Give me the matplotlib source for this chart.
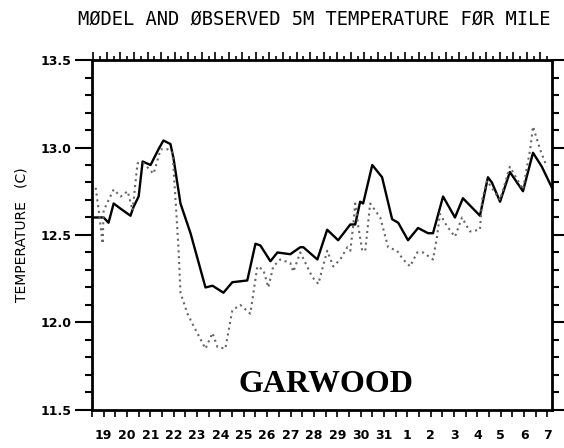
import matplotlib
matplotlib.use("Agg")
import matplotlib.pyplot as plt
from matplotlib.ticker import MultipleLocator, FixedLocator, NullFormatter

# days counted on from 19 July: 32 = 1 Aug, 38 = 7 Aug
model_day = [18.57, 19.00, 19.21, 19.43, 19.73, 20.15, 20.28, 20.50, 20.67, 21.01,
             21.35, 21.56, 21.86, 21.99, 22.29, 22.72, 23.36, 23.66, 24.13, 24.51,
             25.15, 25.50, 25.71, 26.14, 26.44, 26.99, 27.42, 27.55, 28.15, 28.57,
             29.04, 29.56, 29.77, 29.98, 30.11, 30.50, 30.92, 31.35, 31.61, 32.03,
             32.46, 32.89, 33.10, 33.53, 34.04, 34.38, 35.11, 35.45, 35.62, 35.97,
             36.39, 36.95, 37.38, 37.76, 38.19]
model_temp = [12.60, 12.60, 12.57, 12.68, 12.65, 12.61, 12.66, 12.72, 12.92, 12.90,
              12.99, 13.04, 13.02, 12.94, 12.68, 12.51, 12.20, 12.21, 12.17, 12.23,
              12.24, 12.45, 12.44, 12.35, 12.40, 12.39, 12.43, 12.43, 12.36, 12.53,
              12.47, 12.56, 12.56, 12.69, 12.68, 12.90, 12.83, 12.59, 12.57, 12.47,
              12.54, 12.51, 12.51, 12.72, 12.60, 12.71, 12.61, 12.83, 12.80, 12.69,
              12.86, 12.75, 12.97, 12.89, 12.77]

obs_day = [18.66, 18.79, 18.96, 19.00, 19.43, 19.73, 20.03, 20.24, 20.45, 20.71,
           21.14, 21.44, 21.74, 21.95, 22.08, 22.21, 22.29, 22.59, 22.85, 23.36,
           23.66, 23.87, 24.21, 24.51, 24.85, 25.28, 25.58, 25.84, 26.05, 26.26,
           26.56, 26.99, 27.12, 27.42, 27.93, 28.19, 28.57, 28.83, 29.13, 29.43,
           29.56, 29.68, 29.77, 29.90, 30.07, 30.20, 30.41, 30.84, 31.18, 31.56,
           31.82, 32.12, 32.42, 32.68, 33.10, 33.27, 33.40, 33.70, 34.04, 34.34,
           34.68, 35.11, 35.20, 35.41, 35.97, 36.39, 36.95, 37.26, 37.38, 37.68,
           37.97]
obs_temp = [12.77, 12.64, 12.45, 12.64, 12.76, 12.72, 12.75, 12.64, 12.91, 12.91,
            12.85, 12.99, 12.99, 12.97, 12.70, 12.41, 12.17, 12.05, 11.98, 11.85,
            11.94, 11.86, 11.85, 12.07, 12.10, 12.05, 12.32, 12.30, 12.20, 12.32,
            12.36, 12.34, 12.29, 12.40, 12.26, 12.22, 12.41, 12.32, 12.36, 12.43,
            12.41, 12.55, 12.68, 12.55, 12.41, 12.41, 12.68, 12.60, 12.43, 12.41,
            12.36, 12.32, 12.40, 12.40, 12.36, 12.49, 12.62, 12.55, 12.49, 12.60,
            12.52, 12.53, 12.70, 12.81, 12.70, 12.89, 12.76, 12.99, 13.12, 12.99,
            12.89]

tick_days = list(range(19, 39))
tick_labels = ["19", "20", "21", "22", "23", "24", "25", "26", "27", "28", "29",
               "30", "31", "1", "2", "3", "4", "5", "6", "7"]

fig = plt.figure(figsize=(5.64, 4.48), dpi=100)
ax = fig.add_axes([0.163, 0.085, 0.816, 0.781])

ax.plot(model_day, model_temp, color="black", lw=1.7)
ax.plot(obs_day, obs_temp, color="#666666", lw=1.5, ls=(0, (1, 1.8)))

ax.set_xlim(18.5, 38.2)
ax.set_ylim(11.5, 13.5)

for s in ax.spines.values():
    s.set_linewidth(2)

ax.set_xticks(tick_days)
ax.set_xticklabels(tick_labels, fontsize=9, fontweight="bold")
ax.xaxis.set_minor_locator(MultipleLocator(0.5))
ax.tick_params(axis="x", which="both", direction="out", length=5, width=1.2, pad=9)

ax.set_yticks([11.5, 12.0, 12.5, 13.0, 13.5])
ax.set_yticklabels(["11.5", "12.0", "12.5", "13.0", "13.5"], fontsize=9, fontweight="bold")
ax.yaxis.set_minor_locator(MultipleLocator(0.1))
ax.tick_params(axis="y", which="major", direction="out", length=12, width=1.5, pad=3,
               right=True)
ax.tick_params(axis="y", which="minor", direction="out", length=5, width=1.5, right=True)

top = ax.twiny()
top.set_xlim(ax.get_xlim())
top.xaxis.set_major_locator(MultipleLocator(0.58))
top.xaxis.set_minor_locator(MultipleLocator(0.29))
top.xaxis.set_major_formatter(NullFormatter())
top.tick_params(axis="x", which="major", direction="out", length=6, width=1.2)
top.tick_params(axis="x", which="minor", direction="out", length=3, width=1.2)
for s in top.spines.values():
    s.set_visible(False)

ax.set_ylabel("TEMPERATURE   (C)", fontsize=10, family="DejaVu Sans", labelpad=8)

fig.text(0.557, 0.958, "MØDEL AND ØBSERVED 5M TEMPERATURE FØR MILE",
         ha="center", va="center", fontsize=13.5, family="DejaVu Sans Mono")

ax.text(0.508, 0.072, "GARWOOD", transform=ax.transAxes, ha="center", va="center",
        fontsize=23, fontweight="bold", family="Liberation Serif")

fig.savefig("out.png", dpi=100)
